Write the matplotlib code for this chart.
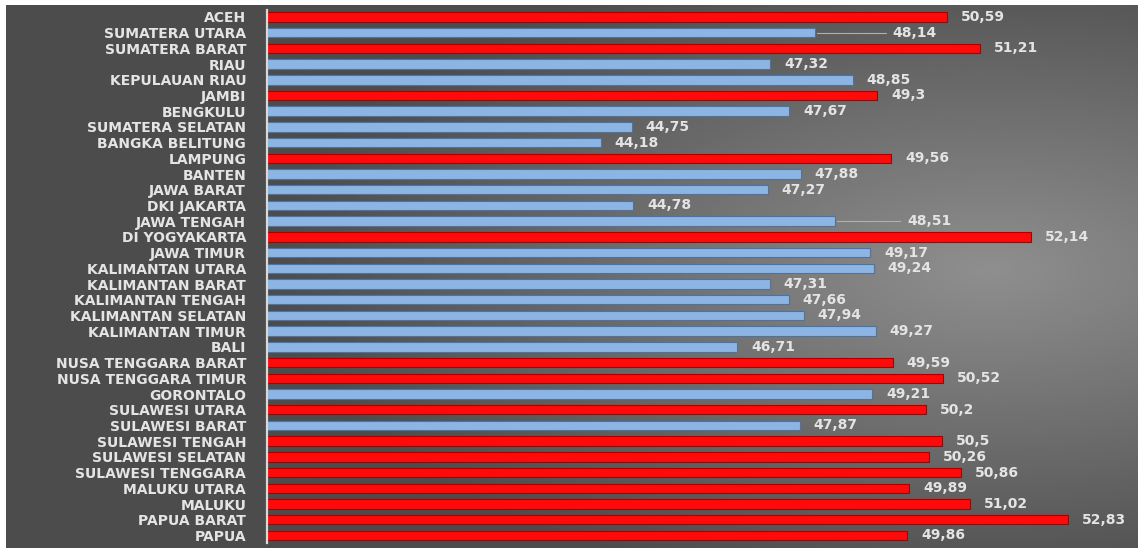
import numpy as np
import matplotlib
matplotlib.use('Agg')
import matplotlib.pyplot as plt

provinces = ['ACEH', 'SUMATERA UTARA', 'SUMATERA BARAT', 'RIAU', 'KEPULAUAN RIAU',
             'JAMBI', 'BENGKULU', 'SUMATERA SELATAN', 'BANGKA BELITUNG', 'LAMPUNG',
             'BANTEN', 'JAWA BARAT', 'DKI JAKARTA', 'JAWA TENGAH', 'DI YOGYAKARTA',
             'JAWA TIMUR', 'KALIMANTAN UTARA', 'KALIMANTAN BARAT', 'KALIMANTAN TENGAH',
             'KALIMANTAN SELATAN', 'KALIMANTAN TIMUR', 'BALI', 'NUSA TENGGARA BARAT',
             'NUSA TENGGARA TIMUR', 'GORONTALO', 'SULAWESI UTARA', 'SULAWESI BARAT',
             'SULAWESI TENGAH', 'SULAWESI SELATAN', 'SULAWESI TENGGARA', 'MALUKU UTARA',
             'MALUKU', 'PAPUA BARAT', 'PAPUA']
values = [50.59, 48.14, 51.21, 47.32, 48.85, 49.3, 47.67, 44.75, 44.18, 49.56,
          47.88, 47.27, 44.78, 48.51, 52.14, 49.17, 49.24, 47.31, 47.66, 47.94,
          49.27, 46.71, 49.59, 50.52, 49.21, 50.2, 47.87, 50.5, 50.26, 50.86,
          49.89, 51.02, 52.83, 49.86]
value_text = ['50,59', '48,14', '51,21', '47,32', '48,85', '49,3', '47,67', '44,75',
              '44,18', '49,56', '47,88', '47,27', '44,78', '48,51', '52,14', '49,17',
              '49,24', '47,31', '47,66', '47,94', '49,27', '46,71', '49,59', '50,52',
              '49,21', '50,2', '47,87', '50,5', '50,26', '50,86', '49,89', '51,02',
              '52,83', '49,86']
threshold = 49.28  # red when above

# labels that were dragged away from the bar end (label x in data units)
moved = {'SUMATERA UTARA': 49.59, 'JAWA TENGAH': 49.85}

W, H = 1138, 554
fig = plt.figure(figsize=(W / 100, H / 100), dpi=100)
fig.patch.set_facecolor('white')

# dark radial gradient background
bg = fig.add_axes([6 / W, 6 / H, 1 - 6 / W, 543 / H])
xx, yy = np.meshgrid(np.linspace(6, W, 400), np.linspace(5, 548, 200))
d = np.sqrt(((xx - 990) / 720) ** 2 + ((yy - 270) / 330) ** 2)
shade = 0.56 - 0.26 * np.clip(d, 0, 1)
bg.imshow(shade, cmap='gray', vmin=0, vmax=1, aspect='auto', interpolation='bilinear')
bg.axis('off')

ax = fig.add_axes([267 / W, 6 / H, 1 - 267 / W, 543 / H])
ax.patch.set_alpha(0)
y = np.arange(len(provinces))
left = 38
face = ['#ff0a0a' if v > threshold else '#8db5e4' for v in values]
edge = ['#a80000' if v > threshold else '#4d73a3' for v in values]
ax.barh(y, [v - left for v in values], left=left, height=0.6,
        color=face, edgecolor=edge, linewidth=0.8, zorder=2)

for i, (name, v, t) in enumerate(zip(provinces, values, value_text)):
    if name in moved:
        lx = moved[name]
        ax.plot([v + 0.05, lx - 0.12], [i, i], color='#b0b0b0', lw=0.8, zorder=1)
        ax.text(lx, i, t, va='center', ha='left', color='#e4e4e4',
                fontsize=10, fontweight='bold')
    else:
        ax.annotate(t, (v, i), xytext=(10, 0), textcoords='offset points',
                    va='center', ha='left', color='#e4e4e4',
                    fontsize=10, fontweight='bold')

ax.set_xlim(left, left + (W - 267) / 54.0)
ax.set_ylim(len(provinces) - 1 + 0.8, -0.76)
ax.set_yticks(y)
ax.set_yticklabels(provinces, color='#e4e4e4', fontsize=10, fontweight='bold')
ax.tick_params(axis='y', length=0, pad=15)
ax.set_xticks([])
for s in ['top', 'right', 'bottom']:
    ax.spines[s].set_visible(False)
ax.spines['left'].set_color('#d8d8d8')
ax.spines['left'].set_linewidth(1.6)
ax.spines['left'].set_bounds(-0.45, len(provinces) - 1 + 0.45)

fig.savefig('out.png', dpi=100, facecolor=fig.get_facecolor())
